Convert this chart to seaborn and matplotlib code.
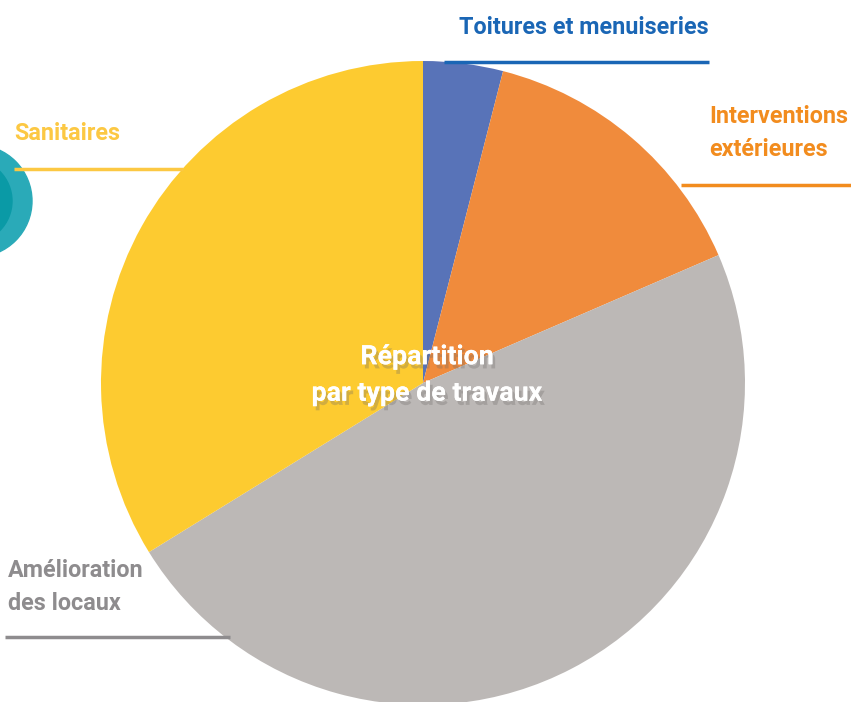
import matplotlib
matplotlib.use('Agg')
import matplotlib.pyplot as plt
import matplotlib.patheffects as pe
from matplotlib.patches import Circle
import seaborn as sns

## data (shares, %)
categories = ['Toitures et menuiseries', 'Interventions\nextérieures',
              'Amélioration\ndes locaux', 'Sanitaires']
shares     = [4.0, 14.5, 47.7, 33.8]
wedge_cols = ['#5873b8', '#f08b3c', '#bcb8b6', '#fdcb30']
label_cols = ['#1a66b5', '#f28c1e', '#8e8c8e', '#fcc843']

sns.set_theme(style='white')
plt.rcParams['font.family'] = ['Roboto', 'DejaVu Sans']
plt.rcParams['font.stretch'] = 'condensed'

W, H = 851, 702
fig = plt.figure(figsize=(W/100, H/100), dpi=100)
ax = fig.add_axes([0, 0, 1, 1])

def Y(py):
  return H - py

## decorative teal ring on the left edge
ax.add_patch(Circle((-24, Y(201)), 56, color='#2aaab8', zorder=1))
ax.add_patch(Circle((-30, Y(201)), 42, color='#0a9aa6', zorder=1))

ax.pie(shares, colors=wedge_cols, startangle=90, counterclock=False,
       center=(423, Y(383)), radius=322, frame=True,
       wedgeprops=dict(linewidth=0))
ax.set_xlim(0, W)
ax.set_ylim(0, H)
ax.set_aspect('equal')
ax.axis('off')

## centre title with a soft shadow
ax.text(427, Y(375), 'Répartition\npar type de travaux', color='white',
        fontsize=19.3, fontweight='bold', ha='center', va='center',
        linespacing=1.45, zorder=5,
        path_effects=[pe.withSimplePatchShadow(offset=(2, -3), shadow_rgbFace='#6e6a68', alpha=0.3),
                      pe.Normal()])

## labels and their rules: (text x, text y, ha, rule x0, rule x1, rule y)
lab_pos = [(709, 27, 'right', 444, 709, 62),
           (848, 133, 'right', 681, 851, 185),
           (8, 587, 'left', 5, 230, 637),
           (14, 133, 'left', 14, 183, 169)]

for cat, col, (tx, ty, ha, x0, x1, ly) in zip(categories, label_cols, lab_pos):
  ax.text(tx, Y(ty), cat, color=col, fontsize=16.8, fontweight='bold',
          ha=ha, va='center', linespacing=1.55, zorder=6,
          multialignment='left')
  ax.plot([x0, x1], [Y(ly), Y(ly)], color=col, lw=2.5, solid_capstyle='butt', zorder=2)

plt.savefig('out.png', dpi=100)
